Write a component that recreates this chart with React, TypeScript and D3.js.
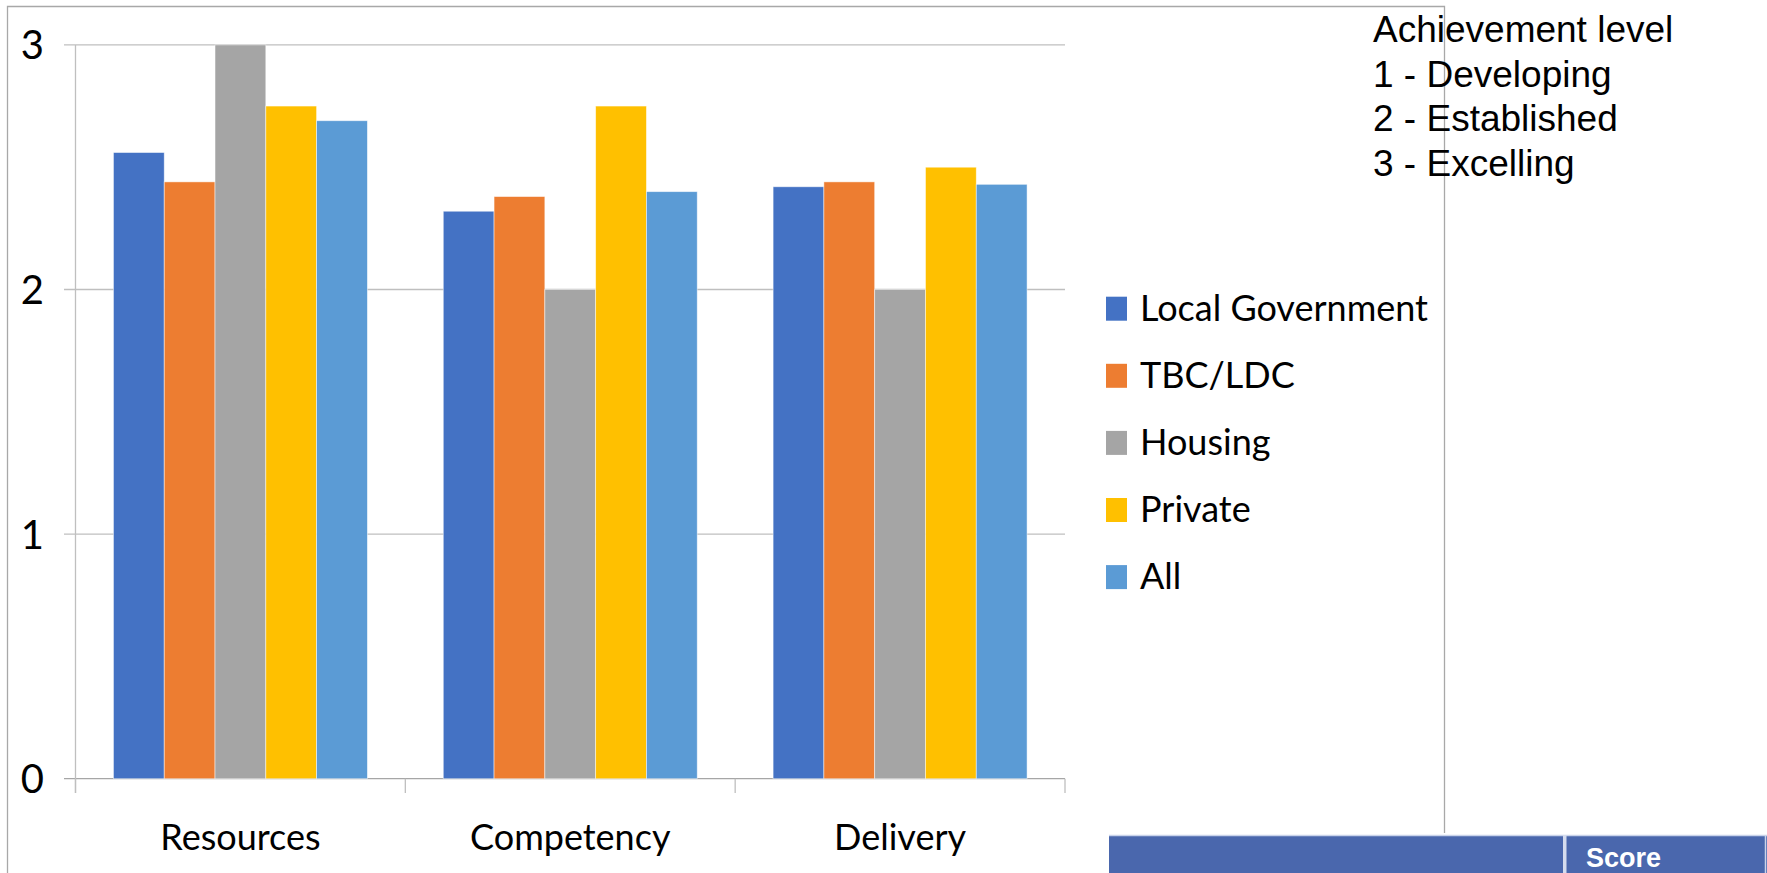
import React from "react";
import * as d3 from "d3";

// ---- data ----
const categories = ["Resources", "Competency", "Delivery"];
const seriesNames = ["Local Government", "TBC/LDC", "Housing", "Private", "All"];
const localGovernment = [2.56, 2.32, 2.42];
const tbcLdc = [2.44, 2.38, 2.44];
const housing = [3, 2, 2];
const privateSector = [2.75, 2.75, 2.5];
const allOrgs = [2.69, 2.4, 2.43];
const seriesColors = ["#4472C4", "#ED7D31", "#A5A5A5", "#FFC000", "#5B9BD5"];
const yTicks = [0, 1, 2, 3];
const levelNotes = ["Achievement level", "1 - Developing", "2 - Established", "3 - Excelling"];
const tableHeaders = ["", "Score"];

const seriesValues = [localGovernment, tbcLdc, housing, privateSector, allOrgs];

const W = 1767;
const H = 873;
const chartFont = "Lato, 'Open Sans', sans-serif";
const noteFont = "'Liberation Sans', Arial, sans-serif";

export default function App() {
  const plotLeft = 75.5;
  const plotRight = 1065;
  const plotTop = 44.9;
  const plotBottom = 778.7;

  const x = d3.scaleBand<string>().domain(categories).range([plotLeft, plotRight]).padding(0);
  const bw = x.bandwidth();
  const groupPad = bw * 0.115;
  const xInner = d3
    .scaleBand<string>()
    .domain(seriesNames)
    .range([groupPad, bw - groupPad])
    .padding(0);
  const y = d3.scaleLinear().domain([0, 3]).range([plotBottom, plotTop]);

  const boundaries = categories.map((c) => x(c) as number).concat([plotRight]);

  const legendX = 1106;
  const legendY0 = 308.7;
  const legendStep = 67.1;

  const tableX = 1109;
  const tableY = 835;
  const dividerX = 1565;

  return (
    <div style={{ position: "absolute", left: 0, top: 0, width: W, height: H, overflow: "hidden" }}>
      <svg width={W} height={H} style={{ display: "block", background: "#fff" }}>
        {/* outer chart frame */}
        <path d={`M7.5,${H} L7.5,6.5 L1444.5,6.5 L1444.5,833`} fill="none" stroke="#a8a8a8" strokeWidth={1.3} />

        {/* gridlines */}
        {yTicks.map((t) => (
          <line
            key={"g" + t}
            x1={64}
            x2={plotRight}
            y1={y(t)}
            y2={y(t)}
            stroke={t === 0 ? "#a6a6a6" : "#bfbfbf"}
            strokeWidth={1.3}
          />
        ))}
        {/* y axis line */}
        <line x1={plotLeft} x2={plotLeft} y1={plotTop} y2={793} stroke="#bfbfbf" strokeWidth={1.3} />
        {/* x category ticks */}
        {boundaries.map((b, i) => (
          <line key={"t" + i} x1={b} x2={b} y1={plotBottom} y2={793} stroke="#bfbfbf" strokeWidth={1.3} />
        ))}

        {/* bars */}
        {seriesNames.map((s, si) => (
          <g key={s}>
            {categories.map((c, ci) => {
              const v = seriesValues[si][ci];
              const bx = (x(c) as number) + (xInner(s) as number);
              return (
                <rect
                  key={c}
                  x={bx}
                  y={y(v)}
                  width={xInner.bandwidth()}
                  height={y(0) - y(v)}
                  fill={seriesColors[si]}
                  stroke="#ffffff"
                  strokeOpacity={0.6}
                  strokeWidth={0.8}
                />
              );
            })}
          </g>
        ))}

        {/* y tick labels */}
        {yTicks.map((t) => (
          <text
            key={"yl" + t}
            x={44}
            y={y(t)}
            dy="0.36em"
            textAnchor="end"
            fontFamily={chartFont}
            fontSize={40}
            fill="#000"
          >
            {t}
          </text>
        ))}

        {/* category labels */}
        {categories.map((c) => (
          <text
            key={"cl" + c}
            x={(x(c) as number) + bw / 2}
            y={850}
            textAnchor="middle"
            fontFamily={chartFont}
            fontSize={36}
            fill="#000"
          >
            {c}
          </text>
        ))}

        {/* legend */}
        {seriesNames.map((s, i) => {
          const cy = legendY0 + i * legendStep;
          return (
            <g key={"lg" + s}>
              <rect x={legendX} y={cy - 12} width={21} height={24} fill={seriesColors[i]} />
              <text x={1140} y={cy + 12} fontFamily={chartFont} fontSize={36} fill="#000">
                {s}
              </text>
            </g>
          );
        })}

        {/* achievement level note */}
        {levelNotes.map((n, i) => (
          <text key={"n" + i} x={1373} y={42.3 + i * 44.5} fontFamily={noteFont} fontSize={37} fill="#000">
            {n}
          </text>
        ))}

        {/* table header */}
        <rect x={tableX} y={tableY} width={W - tableX} height={H - tableY + 5} fill="#4A67AD" />
        <line x1={tableX} x2={W} y1={tableY + 0.5} y2={tableY + 0.5} stroke="#c9d3ea" strokeWidth={1.5} />
        <line x1={W - 1.5} x2={W - 1.5} y1={tableY} y2={H} stroke="#c9d3ea" strokeWidth={1.5} />
        <rect x={dividerX - 2} y={tableY} width={3.5} height={H - tableY} fill="#d5dcee" />
        {tableHeaders.map((h, i) =>
          h ? (
            <text
              key={"th" + i}
              x={1586}
              y={866.5}
              fontFamily={noteFont}
              fontWeight="bold"
              fontSize={27}
              fill="#ffffff"
            >
              {h}
            </text>
          ) : null
        )}
      </svg>
    </div>
  );
}
